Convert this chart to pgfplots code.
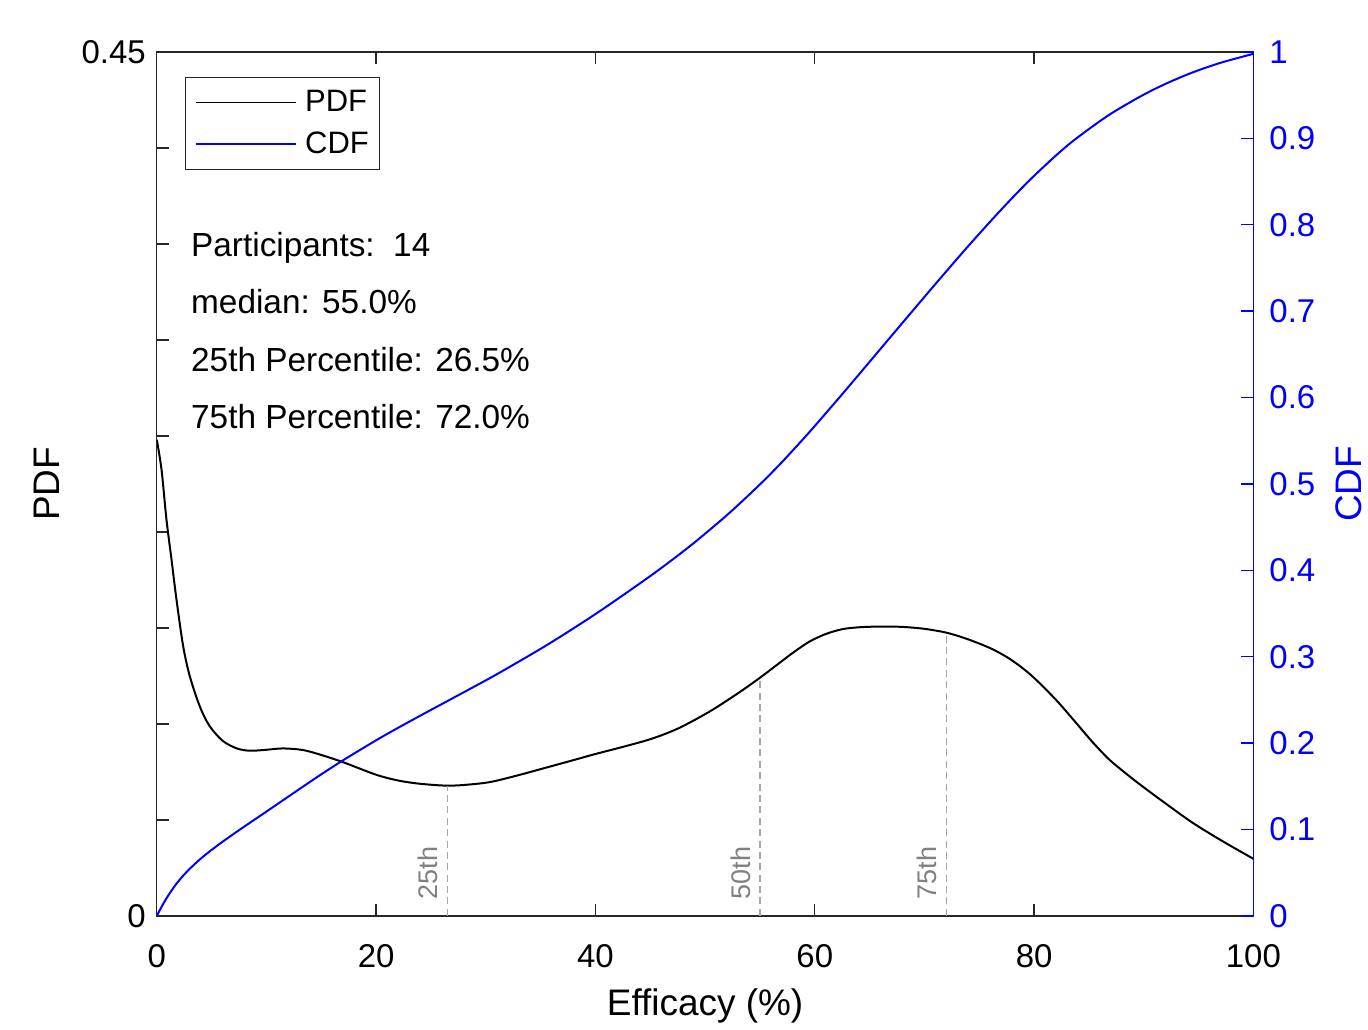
\documentclass[border=0pt]{standalone}
\usepackage{fontspec}
\setmainfont{Liberation Sans}
\usepackage{pgfplots}
\pgfplotsset{compat=1.18}
\usepackage{pgfplotstable}

\definecolor{axgray}{RGB}{38,38,38}
\definecolor{pctline}{RGB}{166,166,166}
\definecolor{pcttext}{RGB}{128,128,128}

% kernel density estimate
\pgfplotstableread{
x     pdf
0     0.248
0.43  0.2325
0.88  0.2065
1.34  0.1857
1.79  0.165
2.4   0.1406
3     0.125
3.9   0.1094
4.8   0.099
6     0.0912
7.3   0.0872
8.5   0.0860
10    0.0865
11.5  0.0872
13.3  0.0864
15    0.0838
17    0.0800
20    0.0735
22    0.0705
24    0.0688
26.5  0.0678
28.5  0.0684
30.5  0.0698
33    0.0733
35.5  0.0772
37.8  0.0808
40    0.0843
42.3  0.0877
44.6  0.0913
46    0.0940
47.5  0.0975
49.2  0.1025
50.7  0.1074
52.2  0.1129
53.6  0.1183
55    0.1240
56.5  0.1305
58    0.1370
59.5  0.1428
61    0.1468
62.5  0.1493
64    0.1503
66    0.1507
68    0.1505
70    0.1495
72    0.1475
74    0.1440
76.2  0.1389
78    0.1330
79.8  0.1250
82    0.1125
83.8  0.1007
85.3  0.0907
86.8  0.0817
88.3  0.0745
89.8  0.0678
92    0.0585
94.4  0.0487
97    0.0395
100   0.0297
}\pdftable

\pgfplotstableread{
x     cdf
0     0
0.43  0.0103
0.88  0.0202
1.34  0.0292
1.79  0.0371
2.4   0.0464
3     0.0544
3.9   0.0650
4.8   0.0744
6     0.0858
7.3   0.0974
8.5   0.1078
10    0.1207
11.5  0.1337
13.3  0.1493
15    0.1638
17    0.1802
20    0.2032
22    0.2176
24    0.2315
26.5  0.2486
29    0.2657
31    0.2796
35.5  0.3129
40    0.3493
44.6  0.3897
47    0.4121
49.2  0.4339
52.2  0.4662
55    0.4994
57    0.5251
59.5  0.5598
62.5  0.6038
65    0.6413
67    0.6714
70    0.7164
72    0.7461
74    0.7753
76.2  0.8064
78    0.8309
79.8  0.8541
82    0.8802
83.8  0.8994
86.8  0.9268
89.8  0.9492
92    0.9631
94.4  0.9760
97    0.9874
100   0.9978
}\cdftable

\begin{document}
\begin{tikzpicture}
\pgfplotsset{
  every axis/.append style={
    scale only axis, width=549pt, height=432.5pt,
    xmin=0, xmax=100,
    tick align=inside,
    major tick length=6pt,
    /pgf/number format/assume math mode=true,
    tick label style={font=\fontsize{16.5}{19}\selectfont},
    label style={font=\fontsize{18.5}{22}\selectfont},
  }
}
\begin{axis}[
  name=ax,
  ymin=0, ymax=0.45,
  axis line style={axgray, line width=0.7pt},
  tick style={axgray, line width=0.7pt},
  xtick={0,20,40,60,80,100},
  xtick pos=both, xticklabel pos=lower,
  xticklabel style={yshift=-11pt},
  ytick={0,0.05,0.1,0.15,0.2,0.25,0.3,0.35,0.4,0.45},
  yticklabels={0,,,,,,,,,0.45},
  ytick pos=left,
  yticklabel style={xshift=-2pt},
  xlabel={Efficacy (\%)},
  ylabel={PDF},
  xlabel style={at={(axis description cs:0.5,-0.104)}, anchor=center},
  ylabel style={at={(axis description cs:-0.1,0.5)}, anchor=center},
]
\addplot[black, line width=1pt, smooth] table[x=x, y=pdf] {\pdftable};

\addplot[pctline, line width=0.7pt, dash pattern=on 3.5pt off 2.2pt] coordinates {(26.5,0) (26.5,0.0678)};
\addplot[pctline, line width=0.7pt, dash pattern=on 3.5pt off 2.2pt] coordinates {(55,0) (55,0.1240)};
\addplot[pctline, line width=0.7pt, dash pattern=on 3.5pt off 2.2pt] coordinates {(72,0) (72,0.1475)};

\node[pcttext, rotate=90, anchor=base west, inner sep=0pt, font=\fontsize{13.5}{16}\selectfont]
  at (axis cs:25.6,0.0085) {25th};
\node[pcttext, rotate=90, anchor=base west, inner sep=0pt, font=\fontsize{13.5}{16}\selectfont]
  at (axis cs:54.1,0.0085) {50th};
\node[pcttext, rotate=90, anchor=base west, inner sep=0pt, font=\fontsize{13.5}{16}\selectfont]
  at (axis cs:71.1,0.0085) {75th};

\node[anchor=base west, inner sep=0pt, font=\fontsize{16.7}{19}\selectfont]
  at (axis cs:3.1,0.3434) {Participants:\ \ 14};
\node[anchor=base west, inner sep=0pt, font=\fontsize{16.7}{19}\selectfont]
  at (axis cs:3.1,0.3137) {median: 55.0\%};
\node[anchor=base west, inner sep=0pt, font=\fontsize{16.7}{19}\selectfont]
  at (axis cs:3.1,0.2835) {25th Percentile: 26.5\%};
\node[anchor=base west, inner sep=0pt, font=\fontsize{16.7}{19}\selectfont]
  at (axis cs:3.1,0.2539) {75th Percentile: 72.0\%};
\end{axis}

\begin{axis}[
  ymin=0, ymax=1,
  axis x line=none,
  axis y line*=right,
  axis line style={blue, line width=0.7pt},
  ytick={0,0.1,0.2,0.3,0.4,0.5,0.6,0.7,0.8,0.9,1},
  ytick style={blue, line width=0.7pt},
  yticklabel style={blue, xshift=4.5pt},
  ylabel={CDF},
  ylabel style={blue, at={(axis description cs:1.0865,0.5)}, anchor=center},
  legend style={at={(0.0255,0.971)}, anchor=north west, draw=axgray,
    line width=0.6pt, font=\fontsize{15.5}{18}\selectfont,
    row sep=4.5pt, inner xsep=3.5pt, inner ysep=4.5pt,
    nodes={inner xsep=2pt}},
  legend cell align=left,
  legend image code/.code={\draw[#1] (1.5pt,0pt) -- (51.5pt,0pt);
    \path (0pt,0pt) (53.5pt,0pt);},
]
\addlegendimage{black, line width=0.6pt}
\addlegendentry{PDF}
\addplot[blue, line width=1pt, smooth] table[x=x, y=cdf] {\cdftable};
\addlegendentry{CDF}
\end{axis}

\path (ax.south west) ++(-78.5pt,-53.5pt);
\path (ax.north east) ++(56.5pt,26pt);
\end{tikzpicture}
\end{document}
